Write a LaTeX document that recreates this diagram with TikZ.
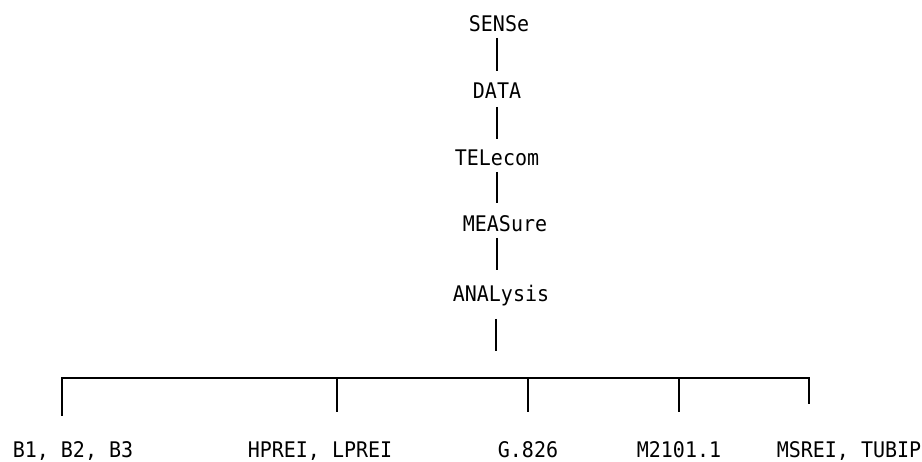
\documentclass[tikz,border=0pt]{standalone}
\usepackage{fontspec}
\newfontfamily\lblfont[FakeStretch=0.93]{DejaVu Sans Mono}
\begin{document}
\begin{tikzpicture}[x=1pt,y=-1pt,
  lbl/.style={font=\lblfont\fontsize{21.5}{24}\selectfont, inner sep=0pt, anchor=base},
  conn/.style={line width=2.5pt, black}]
\useasboundingbox (0,0) rectangle (922,462);
% chain
\node[lbl] (sense) at (499,32) {SENSe};
\node[lbl] (data) at (497,99) {DATA};
\node[lbl] (tele) at (497,166) {TELecom};
\node[lbl] (meas) at (505,232) {MEASure};
\node[lbl] (anal) at (501,302) {ANALysis};
\draw[conn] ([xshift=-2pt,yshift=-6pt]sense.base) -- ([yshift=28pt]data.base);
\draw[conn] ([yshift=-8pt]data.base) -- ([yshift=27pt]tele.base);
\draw[conn] ([yshift=-6pt]tele.base) -- ([xshift=-8pt,yshift=29pt]meas.base);
\draw[conn] ([xshift=-8pt,yshift=-6pt]meas.base) -- ([xshift=-4pt,yshift=32pt]anal.base);
\coordinate (adrop) at (496,351);
\draw[conn] ([xshift=-5pt,yshift=-17pt]anal.base) -- (adrop);
% bottom labels
\node[lbl] (b) at (73,457) {B1, B2, B3};
\node[lbl] (h) at (320,457) {HPREI, LPREI};
\node[lbl] (g) at (528,457) {G.826};
\node[lbl] (m) at (679,457) {M2101.1};
\node[lbl] (s) at (849,457) {MSREI, TUBIP};
% bar
\coordinate (jb) at (62,378);
\coordinate (jh) at (337,378);
\coordinate (jg) at (528,378);
\coordinate (jm) at (679,378);
\coordinate (js) at (809,378);
\draw[conn] (jb |- 0,416) -- (jb) -- (js) -- (js |- 0,404);
\draw[conn] (jh) -- (jh |- 0,412);
\draw[conn] (jg) -- (jg |- 0,412);
\draw[conn] (jm) -- (jm |- 0,412);
\end{tikzpicture}
\end{document}
